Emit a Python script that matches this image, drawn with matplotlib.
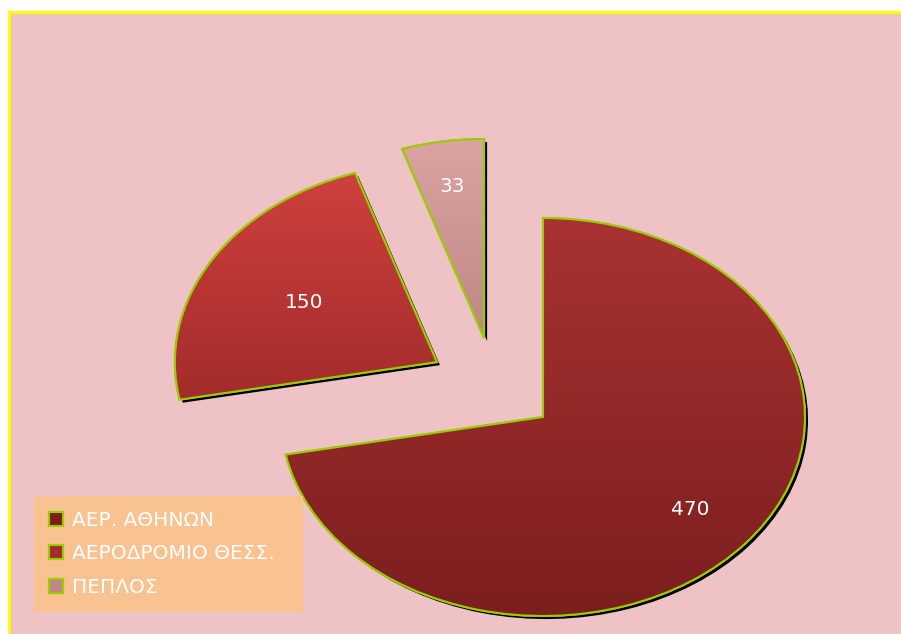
import numpy as np
import matplotlib.pyplot as plt
import matplotlib.patches as mpatches
import matplotlib.patheffects as pe
from matplotlib.colors import to_rgb

# data
labels = ['ΑΕΡ. ΑΘΗΝΩΝ', 'ΑΕΡΟΔΡΟΜΙΟ ΘΕΣΣ.', 'ΠΕΠΛΟΣ']
values = [470, 150, 33]

# look
top_colors = ['#a93232', '#cf403d', '#dca3a3']
bottom_colors = ['#7c1e1e', '#a22c2b', '#bf8686']
edge_green = '#9acd00'
# slices were pulled out by hand in the original, so offsets are not purely radial
offsets = [(0.0, 0.0), (-0.405, 0.276), (-0.225, 0.397)]
label_dist = [0.73, 0.59, 0.77]

plt.rcParams['font.family'] = ['DejaVu Sans']

fig = plt.figure(figsize=(9.01, 6.34), dpi=100)
fig.patch.set_facecolor('white')

# pink plot area with yellow frame
bg = mpatches.Rectangle((9 / 901, -0.01), 1.0, (634 - 12) / 634 + 0.01,
                        transform=fig.transFigure, facecolor='#efc2c6',
                        edgecolor='#ffff00', linewidth=2.2, zorder=-1)
fig.patches.append(bg)

ax = fig.add_axes([0, 0, 1, 1])
ax.patch.set_alpha(0)

total = sum(values)
wedges, texts, autotexts = ax.pie(
    values, startangle=90, counterclock=False, radius=1.0,
    autopct=lambda p: '%d' % round(p * total / 100.0), pctdistance=0.7,
    wedgeprops=dict(edgecolor=edge_green, linewidth=1.5),
    textprops=dict(color='white', fontsize=14.5))

ax.set_aspect('auto')

for i, w in enumerate(wedges):
    dx, dy = offsets[i]
    w.set_center((dx, dy))
    w.set_facecolor(bottom_colors[i])
    w.set_zorder(1)
    w.set_path_effects([pe.SimplePatchShadow(offset=(2.2, -2.2), shadow_rgbFace='black', alpha=1.0),
                        pe.Normal()])
    # vertical gradient fill
    ext = w.get_path().get_extents()
    c0 = np.array(to_rgb(top_colors[i]))
    c1 = np.array(to_rgb(bottom_colors[i]))
    t = np.linspace(0, 1, 256)[:, None, None]
    grad = c0 * (1 - t) + c1 * t
    im = ax.imshow(grad, extent=(ext.x0, ext.x1, ext.y0, ext.y1), origin='upper',
                   aspect='auto', zorder=2, interpolation='bilinear')
    im.set_clip_path(w)
    edge = mpatches.PathPatch(w.get_path(), facecolor='none', edgecolor=edge_green,
                              linewidth=1.5, zorder=3, transform=ax.transData)
    ax.add_patch(edge)
    # value label
    mid = np.deg2rad((w.theta1 + w.theta2) / 2.0)
    autotexts[i].set_position((dx + label_dist[i] * np.cos(mid), dy + label_dist[i] * np.sin(mid)))
    autotexts[i].set_zorder(4)

# map unit radius to ~262 px wide, ~199 px tall, centre at (543, 417) px
ax.set_xlim(-543 / 262, (901 - 543) / 262)
ax.set_ylim(-(634 - 417) / 199, 417 / 199)
ax.set_axis_off()

leg = ax.legend(wedges, labels, loc='lower left', mode='expand',
                bbox_to_anchor=(34 / 901, 22 / 634, 269 / 901, 110 / 634),
                bbox_transform=fig.transFigure,
                frameon=True, fancybox=False, framealpha=1.0, facecolor='#f8c291',
                edgecolor='none', fontsize=14.5, labelcolor='white',
                handlelength=0.7, handleheight=0.7, handletextpad=0.45,
                labelspacing=0.72, borderpad=0.75, borderaxespad=0)
leg.set_zorder(5)
for h in leg.legend_handles:
    h.set_edgecolor(edge_green)
    h.set_linewidth(1.5)
    h.set_path_effects([])

fig.savefig('out.png', dpi=100)
